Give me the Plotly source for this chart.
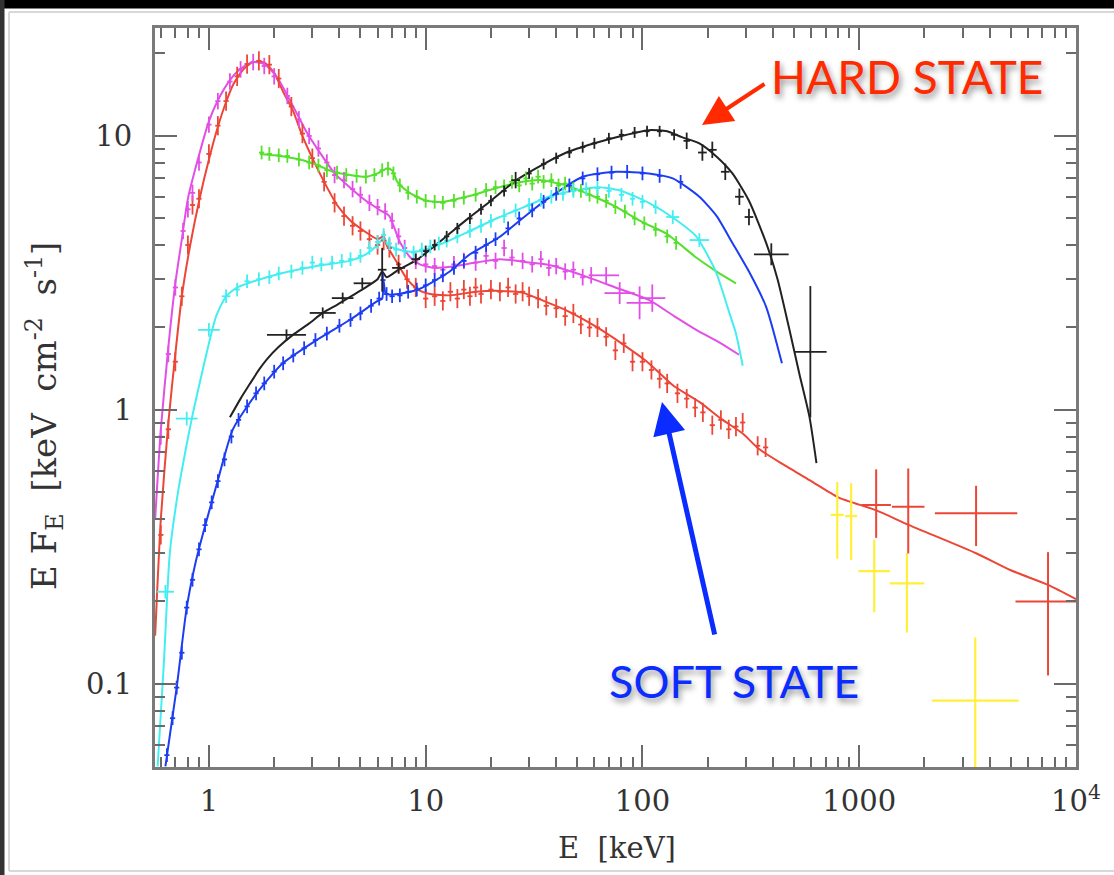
import plotly.graph_objects as go

# ---------------- data ----------------
# model curves
RED_MODEL_E = [0.565, 0.6, 0.65, 0.7, 0.75, 0.82, 0.91, 1.0, 1.1, 1.2, 1.3, 1.45, 1.6, 1.8, 2.0, 2.2, 2.45, 2.7, 3.0, 3.4, 3.9, 4.5, 5.2, 6.0, 6.4, 6.6, 7.3, 8.2, 9.2, 10.5, 13, 17, 22, 28, 35, 45, 60, 80, 105, 140, 183, 230, 290, 345, 450, 600, 800, 1200, 1700, 3460, 5000, 7430, 10000]
RED_MODEL_F = [0.15, 0.4, 0.9, 1.6, 2.6, 4.0, 6.0, 8.2, 10.8, 13.3, 15.5, 17.6, 18.6, 18.5, 17.0, 14.5, 12.3, 10.0, 8.3, 6.8, 5.6, 4.9, 4.5, 4.2, 4.3, 4.0, 3.5, 3.0, 2.75, 2.65, 2.62, 2.7, 2.72, 2.68, 2.5, 2.3, 2.03, 1.75, 1.5, 1.22, 1.07, 0.93, 0.82, 0.72, 0.63, 0.55, 0.48, 0.43, 0.38, 0.30, 0.26, 0.23, 0.204]

MAG_MODEL_E = [0.565, 0.6, 0.65, 0.7, 0.75, 0.8, 0.9, 1.0, 1.1, 1.25, 1.4, 1.6, 1.8, 2.06, 2.4, 2.83, 3.25, 3.8, 4.46, 5.3, 6.3, 6.8, 7.6, 8.5, 9.4, 11, 13, 17, 22, 30, 37, 53, 75, 107, 140, 177, 230, 279]
MAG_MODEL_F = [0.4, 0.85, 1.7, 2.9, 4.2, 5.9, 8.5, 11.3, 13.5, 16.0, 17.6, 18.6, 18.3, 16.4, 13.2, 10.3, 8.7, 7.3, 6.5, 5.8, 5.3, 5.1, 4.1, 3.6, 3.4, 3.3, 3.33, 3.45, 3.55, 3.45, 3.38, 3.1, 2.8, 2.52, 2.2, 1.96, 1.75, 1.59]

GRN_MODEL_E = [1.72, 2.0, 2.62, 3.2, 3.73, 4.5, 5.3, 6.0, 6.6, 7.0, 7.4, 8.2, 9.1, 10.1, 12, 15.4, 21.9, 28, 33.5, 44.6, 60, 75.8, 100, 129, 177, 220, 270]
GRN_MODEL_F = [8.6, 8.5, 8.2, 7.8, 7.4, 7.2, 7.1, 7.3, 7.6, 7.5, 6.8, 6.3, 6.0, 5.8, 5.75, 6.0, 6.5, 6.8, 6.9, 6.6, 6.0, 5.5, 4.85, 4.4, 3.6, 3.2, 2.9]

CYN_MODEL_E = [0.58, 0.62, 0.66, 0.72, 0.79, 0.85, 0.91, 1.0, 1.08, 1.2, 1.35, 1.55, 2.19, 3.14, 4.46, 5.3, 6.0, 6.4, 6.7, 7.5, 8.5, 9.5, 11, 13, 16, 22, 30, 37, 50, 63, 80, 107, 140, 177, 218, 250, 270, 290]
CYN_MODEL_F = [0.05, 0.12, 0.3, 0.5, 0.75, 1.0, 1.27, 1.75, 2.2, 2.6, 2.8, 2.92, 3.16, 3.35, 3.5, 3.7, 4.0, 4.25, 4.0, 3.85, 3.78, 3.8, 3.95, 4.17, 4.5, 5.06, 5.6, 6.0, 6.35, 6.5, 6.3, 5.7, 5.0, 4.3, 3.2, 2.3, 1.9, 1.45]

BLK_MODEL_E = [1.25, 1.4, 1.55, 1.7, 1.85, 2.1, 2.44, 2.9, 3.35, 3.9, 4.46, 5.2, 6.0, 6.3, 6.6, 7.5, 9.1, 12, 15.4, 20, 26.2, 35, 44.6, 60, 75.8, 107, 130, 152, 183, 220, 260, 310, 372, 420, 474, 530, 590, 635]
BLK_MODEL_F = [0.94, 1.1, 1.25, 1.4, 1.53, 1.7, 1.88, 2.07, 2.26, 2.42, 2.58, 2.78, 3.0, 3.2, 3.05, 3.25, 3.53, 4.2, 4.94, 5.8, 6.9, 7.9, 8.7, 9.4, 9.9, 10.5, 10.4, 9.9, 9.4, 8.4, 7.3, 5.8, 4.07, 3.0, 2.0, 1.35, 0.94, 0.64]

BLU_MODEL_E = [0.63, 0.71, 0.79, 0.87, 0.94, 1.09, 1.29, 1.66, 2.19, 3.14, 4.46, 6.0, 6.3, 6.4, 6.55, 7.5, 9.1, 10.5, 12.9, 16, 21.9, 31.2, 40, 53, 76, 107, 138, 183, 220, 260, 310, 372, 440]
BLU_MODEL_F = [0.05, 0.097, 0.19, 0.28, 0.355, 0.54, 0.85, 1.15, 1.48, 1.8, 2.13, 2.5, 2.55, 2.95, 2.65, 2.65, 2.74, 2.9, 3.2, 3.7, 4.28, 5.37, 6.2, 7.1, 7.4, 7.3, 7.0, 6.0, 5.1, 4.07, 3.2, 2.38, 1.48]

# data points (E [keV], E F_E) with half-widths of the error crosses in dex
RED_E = [0.6, 0.65, 0.7, 0.75, 0.8, 0.84, 0.9, 1.0, 1.1, 1.2, 1.35, 1.5, 1.7, 1.9, 2.1, 2.4, 2.7, 3.0, 3.4, 3.8, 4.2, 4.6, 5.0, 5.5, 6.0, 6.4, 6.8, 7.5, 8.2, 9, 10, 11, 12, 13, 14, 15, 16, 17, 18, 20, 22, 24, 26, 28, 30, 33, 36, 40, 44, 48, 52, 57, 62, 68, 75, 82, 90, 100, 110, 120, 130, 145, 160, 175, 190, 210, 230, 250, 270, 290, 340, 370]
RED_F = [0.35, 0.85, 1.5, 2.6, 4.0, 5.6, 5.9, 8.6, 10.9, 13.4, 16.5, 18.3, 18.8, 18.2, 16.2, 12.8, 10.2, 8.3, 6.8, 5.7, 5.1, 4.7, 4.5, 4.2, 4.0, 4.15, 3.9, 3.4, 3.0, 2.8, 2.55, 2.6, 2.5, 2.7, 2.55, 2.75, 2.6, 2.8, 2.65, 2.75, 2.7, 2.8, 2.65, 2.7, 2.6, 2.55, 2.4, 2.35, 2.2, 2.25, 2.05, 2.0, 2.0, 1.85, 1.65, 1.75, 1.5, 1.5, 1.4, 1.3, 1.25, 1.15, 1.1, 1.02, 0.98, 0.88, 0.92, 0.85, 0.87, 0.9, 0.74, 0.73]
RED_EX = 0.012
RED_EY = 0.035

RED_HI_E = [1197, 1683, 3460, 7430]
RED_HI_F = [0.45, 0.443, 0.42, 0.20]
RED_HI_EX = [0.068, 0.075, 0.19, 0.15]
RED_HI_EY_UP = [0.13, 0.14, 0.10, 0.18]
RED_HI_EY_DN = [0.12, 0.17, 0.12, 0.27]

MAG_E = [0.6, 0.65, 0.7, 0.76, 0.8, 0.84, 0.9, 1.0, 1.1, 1.25, 1.4, 1.6, 1.8, 2.0, 2.3, 2.6, 2.9, 3.2, 3.5, 3.8, 4.2, 4.6, 5.0, 5.5, 6.0, 6.5, 7.0, 7.5, 8.0, 9, 10, 11, 12, 13.5, 15, 17, 19, 21, 23, 25, 28, 31, 34, 37, 40, 44, 48, 53, 58]
MAG_F = [0.8, 1.6, 2.8, 4.5, 5.4, 6.2, 8.0, 11.0, 13.4, 15.8, 17.5, 18.6, 18.0, 16.5, 14.0, 11.5, 10.0, 9.0, 8.0, 7.2, 6.9, 6.4, 6.1, 5.7, 5.5, 5.3, 4.9, 4.3, 3.9, 3.5, 3.4, 3.35, 3.25, 3.4, 3.5, 3.45, 3.65, 3.5, 3.9, 3.6, 3.5, 3.4, 3.55, 3.3, 3.35, 3.2, 3.25, 3.05, 3.1]
MAG_EX = 0.012
MAG_EY = 0.03

MAG_HI_E = [68, 78.5, 97, 111]
MAG_HI_F = [3.1, 2.67, 2.46, 2.56]
MAG_HI_EX = [0.06, 0.07, 0.06, 0.06]
MAG_HI_EY = [0.03, 0.04, 0.06, 0.05]

GRN_E = [1.75, 1.9, 2.1, 2.3, 2.6, 2.9, 3.2, 3.5, 3.9, 4.3, 4.8, 5.3, 5.8, 6.3, 6.7, 7.1, 7.6, 8.3, 9.1, 10, 11, 12, 13.5, 15, 17, 19, 21, 23, 25, 27, 29, 31, 33, 35, 38, 41, 44, 48, 52, 57, 62, 68, 75, 83, 92, 102, 115, 130, 143]
GRN_F = [8.7, 8.6, 8.5, 8.45, 8.2, 8.0, 7.8, 7.5, 7.35, 7.2, 7.15, 7.1, 7.2, 7.5, 7.6, 7.3, 6.6, 6.2, 6.0, 5.8, 5.75, 5.7, 5.8, 5.95, 6.1, 6.35, 6.5, 6.55, 6.8, 6.6, 7.0, 6.7, 7.1, 6.8, 6.9, 6.6, 6.7, 6.4, 6.3, 6.1, 6.0, 5.8, 5.5, 5.3, 5.0, 4.8, 4.55, 4.3, 4.07]
GRN_EX = 0.012
GRN_EY = 0.025

CYN_E = [0.63, 0.79, 1.0, 1.2, 1.35, 1.5, 1.7, 1.9, 2.1, 2.4, 2.7, 3.0, 3.3, 3.7, 4.1, 4.5, 5.0, 5.5, 6.0, 6.4, 6.8, 7.3, 8.0, 8.8, 9.6, 10.5, 11.5, 12.5, 14, 16, 18, 20, 23, 26, 30, 34, 38, 43, 48, 55, 62, 70, 80, 90, 100, 115, 138, 183]
CYN_F = [0.217, 0.93, 1.96, 2.6, 2.75, 2.95, 3.0, 3.05, 3.15, 3.2, 3.3, 3.45, 3.4, 3.45, 3.5, 3.55, 3.65, 3.9, 4.1, 4.35, 4.05, 3.85, 3.8, 3.75, 3.85, 3.95, 4.05, 4.15, 4.3, 4.5, 4.7, 4.9, 5.1, 5.35, 5.6, 5.85, 6.0, 6.15, 6.3, 6.4, 6.45, 6.3, 6.1, 5.9, 5.75, 5.5, 5.06, 4.17]
CYN_EX = [0.04, 0.05, 0.05, 0.02, 0.012, 0.012, 0.012, 0.012, 0.012, 0.012, 0.012, 0.012, 0.012, 0.012, 0.012, 0.012, 0.012, 0.012, 0.012, 0.012, 0.012, 0.012, 0.012, 0.012, 0.012, 0.012, 0.012, 0.012, 0.012, 0.012, 0.012, 0.012, 0.012, 0.012, 0.012, 0.012, 0.012, 0.012, 0.012, 0.012, 0.012, 0.012, 0.012, 0.012, 0.012, 0.012, 0.03, 0.045]
CYN_EY = 0.025

BLK_E = [2.28, 3.35, 4.14, 5.1, 6.3, 7.5, 9, 10, 11, 12.5, 14, 16, 18, 20, 23, 26, 30, 35, 40, 46, 53, 60, 70, 80, 92, 105, 120, 140, 160, 189, 210, 241, 280, 310, 393, 595]
BLK_F = [1.88, 2.26, 2.56, 2.9, 3.25, 3.3, 3.55, 3.8, 4.0, 4.3, 4.6, 5.0, 5.4, 5.8, 6.3, 6.9, 7.3, 7.9, 8.3, 8.7, 9.1, 9.4, 9.8, 10.1, 10.3, 10.4, 10.4, 10.1, 9.6, 8.7, 8.9, 7.4, 6.0, 5.06, 3.7, 1.63]
BLK_EX = [0.09, 0.06, 0.05, 0.04, 0.02, 0.03, 0.02, 0.012, 0.012, 0.012, 0.012, 0.012, 0.012, 0.012, 0.012, 0.02, 0.012, 0.012, 0.012, 0.012, 0.012, 0.012, 0.012, 0.012, 0.012, 0.012, 0.012, 0.015, 0.015, 0.02, 0.02, 0.02, 0.02, 0.02, 0.08, 0.075]
BLK_EY = [0.02, 0.02, 0.02, 0.02, 0.08, 0.02, 0.02, 0.02, 0.02, 0.02, 0.02, 0.02, 0.02, 0.02, 0.02, 0.03, 0.02, 0.02, 0.02, 0.02, 0.02, 0.02, 0.02, 0.02, 0.02, 0.02, 0.02, 0.02, 0.03, 0.03, 0.03, 0.03, 0.03, 0.03, 0.04, 0.24]

BLU_E = [0.64, 0.68, 0.71, 0.75, 0.79, 0.84, 0.9, 0.96, 1.03, 1.1, 1.18, 1.27, 1.37, 1.5, 1.65, 1.8, 2.0, 2.2, 2.45, 2.75, 3.1, 3.5, 4.0, 4.5, 5.0, 5.6, 6.1, 6.35, 6.6, 7.0, 7.6, 8.3, 9.1, 10, 11, 12, 13.5, 15, 17, 19, 21, 24, 27, 31, 35, 40, 46, 53, 62, 72, 85, 100, 120, 150]
BLU_F = [0.055, 0.075, 0.097, 0.13, 0.19, 0.24, 0.31, 0.38, 0.46, 0.55, 0.66, 0.8, 0.92, 1.03, 1.15, 1.25, 1.38, 1.48, 1.58, 1.68, 1.8, 1.9, 2.03, 2.13, 2.25, 2.4, 2.55, 2.98, 2.65, 2.6, 2.62, 2.7, 2.75, 2.85, 2.98, 3.1, 3.3, 3.5, 3.75, 4.0, 4.2, 4.6, 5.0, 5.35, 5.75, 6.15, 6.6, 7.0, 7.25, 7.35, 7.4, 7.3, 7.15, 6.8]
BLU_EX = 0.012
BLU_EY = 0.025

YEL_E = [792, 918, 1173, 1660, 3430]
YEL_F = [0.414, 0.41, 0.258, 0.233, 0.087]
YEL_EX = [0.03, 0.028, 0.073, 0.08, 0.2]
YEL_EY_UP = [0.12, 0.12, 0.115, 0.11, 0.23]
YEL_EY_DN = [0.16, 0.16, 0.15, 0.18, 0.3]

X_TICKS = [1, 10, 100, 1000, 10000]
X_TICKTEXT = ["1", "10", "100", "1000", "10<sup>4</sup>"]
Y_TICKS = [0.1, 1, 10]
Y_TICKTEXT = ["0.1", "1", "10"]

RED = "#ec4637"
MAG = "#e34fe6"
GRN = "#55e02c"
CYN = "#44eef0"
BLU = "#1d3df2"
BLK = "#222222"
YEL = "#fff03a"

# ---------------- layout geometry ----------------
W, H = 1114, 875
PL, PR, PT, PB = 155, 1076, 28, 767  # plot-area pixel box


def px(x):
    return (x - PL) / (PR - PL)


def py(y):
    return (PB - y) / (PB - PT)


def as_list(v, n):
    return v if isinstance(v, list) else [v] * n


def err(vals, up, dn):
    n = len(vals)
    up = as_list(up, n)
    dn = as_list(dn, n)
    plus = [v * (10 ** u - 1) for v, u in zip(vals, up)]
    minus = [v * (1 - 10 ** (-d)) for v, d in zip(vals, dn)]
    return plus, minus


def data_trace(E, F, ex, ey_up, ey_dn, color, thick=1.8):
    xp, xm = err(E, ex, ex)
    yp, ym = err(F, ey_up, ey_dn)
    return go.Scatter(
        x=E, y=F, mode="markers",
        marker=dict(size=2, color=color),
        error_x=dict(type="data", symmetric=False, array=xp, arrayminus=xm,
                     width=0, thickness=thick, color=color),
        error_y=dict(type="data", symmetric=False, array=yp, arrayminus=ym,
                     width=0, thickness=thick, color=color),
        hoverinfo="skip", showlegend=False,
    )


def model_trace(E, F, color, width=2):
    return go.Scatter(x=E, y=F, mode="lines",
                      line=dict(color=color, width=width, shape="spline", smoothing=0.6),
                      hoverinfo="skip", showlegend=False)


fig = go.Figure()
fig.add_trace(model_trace(RED_MODEL_E, RED_MODEL_F, RED))
fig.add_trace(model_trace(MAG_MODEL_E, MAG_MODEL_F, MAG))
fig.add_trace(model_trace(GRN_MODEL_E, GRN_MODEL_F, GRN))
fig.add_trace(model_trace(CYN_MODEL_E, CYN_MODEL_F, CYN))
fig.add_trace(model_trace(BLU_MODEL_E, BLU_MODEL_F, BLU))
fig.add_trace(model_trace(BLK_MODEL_E, BLK_MODEL_F, BLK))

fig.add_trace(data_trace(YEL_E, YEL_F, YEL_EX, YEL_EY_UP, YEL_EY_DN, YEL, 2.2))
fig.add_trace(data_trace(RED_HI_E, RED_HI_F, RED_HI_EX, RED_HI_EY_UP, RED_HI_EY_DN, RED, 2.0))
fig.add_trace(data_trace(RED_E, RED_F, RED_EX, RED_EY, RED_EY, RED))
fig.add_trace(data_trace(MAG_E, MAG_F, MAG_EX, MAG_EY, MAG_EY, MAG))
fig.add_trace(data_trace(MAG_HI_E, MAG_HI_F, MAG_HI_EX, MAG_HI_EY, MAG_HI_EY, MAG))
fig.add_trace(data_trace(GRN_E, GRN_F, GRN_EX, GRN_EY, GRN_EY, GRN))
fig.add_trace(data_trace(CYN_E, CYN_F, CYN_EX, CYN_EY, CYN_EY, CYN))
fig.add_trace(data_trace(BLU_E, BLU_F, BLU_EX, BLU_EY, BLU_EY, BLU))
fig.add_trace(data_trace(BLK_E, BLK_F, BLK_EX, BLK_EY, BLK_EY, BLK))

minor_x = [m * 10 ** d for d in range(-1, 4) for m in range(2, 10)]
minor_y = [m * 10 ** d for d in range(-2, 2) for m in range(2, 10)]

TICK_FONT = dict(family="DejaVu Serif", size=29, color="#333333")
axis_common = dict(
    type="log", showgrid=False, zeroline=False,
    showline=True, linecolor="#7a7a7a", linewidth=3, mirror="allticks",
    ticks="inside", ticklen=22, tickwidth=2, tickcolor="#6a6a6a",
    tickfont=TICK_FONT,
)
minor_style = dict(ticks="inside", ticklen=10, tickwidth=2, tickcolor="#6a6a6a")

fig.update_layout(
    width=W, height=H,
    margin=dict(l=PL, r=W - PR, t=PT, b=H - PB),
    paper_bgcolor="white", plot_bgcolor="white",
    xaxis=dict(axis_common, range=[-0.2487, 4.0], tickvals=X_TICKS, ticktext=X_TICKTEXT,
               ticklabelstandoff=6, minor=dict(minor_style, tickvals=minor_x)),
    yaxis=dict(axis_common, range=[-1.303, 1.394], tickvals=Y_TICKS, ticktext=Y_TICKTEXT,
               ticklabelstandoff=14, minor=dict(minor_style, tickvals=minor_y)),
    showlegend=False,
)

# outer frame decorations
fig.add_shape(type="rect", xref="paper", yref="paper", x0=px(0), x1=px(W), y0=py(0), y1=py(8),
              fillcolor="black", line=dict(color="black", width=1), layer="above")
fig.add_shape(type="rect", xref="paper", yref="paper", x0=px(0), x1=px(4), y0=py(0), y1=py(H),
              fillcolor="#333333", line=dict(color="#333333", width=1), layer="above")
fig.add_shape(type="line", xref="paper", yref="paper", x0=px(9), x1=px(W), y0=py(12), y1=py(12),
              line=dict(color="#d8d8d8", width=2))
fig.add_shape(type="line", xref="paper", yref="paper", x0=px(9), x1=px(9), y0=py(12), y1=py(871),
              line=dict(color="#d8d8d8", width=2))
fig.add_shape(type="line", xref="paper", yref="paper", x0=px(9), x1=px(W), y0=py(871), y1=py(871),
              line=dict(color="#d8d8d8", width=2))

# axis titles
fig.add_annotation(xref="paper", yref="paper", x=px(617), y=py(848), showarrow=False,
                   xanchor="center", yanchor="middle",
                   text="E  [keV]", font=dict(family="DejaVu Serif", size=29, color="#333333"))
fig.add_annotation(xref="paper", yref="paper", x=px(44), y=py(416), showarrow=False,
                   xanchor="center", yanchor="middle", textangle=-90,
                   text="E F<sub>E</sub>  [keV  cm<sup>-2</sup>  s<sup>-1</sup>]",
                   font=dict(family="DejaVu Serif", size=34, color="#333333"))

# state labels and arrows
shadow = "2px 4px 6px rgba(0,0,0,0.45)"
fig.add_annotation(xref="paper", yref="paper", x=px(907), y=py(76), showarrow=False,
                   xanchor="center", yanchor="middle",
                   text="HARD STATE", font=dict(family="Lato", size=46, color="#ff2a00", shadow=shadow))
fig.add_annotation(xref="paper", yref="paper", x=px(734), y=py(681), showarrow=False,
                   xanchor="center", yanchor="middle",
                   text="SOFT STATE", font=dict(family="Lato", size=45, color="#0a2cff", shadow=shadow))
fig.add_annotation(xref="paper", yref="paper", x=px(702), y=py(125), ax=64, ay=-42, text="",
                   showarrow=True, arrowhead=2, arrowsize=1.5, arrowwidth=4, arrowcolor="#ff2a00")
fig.add_annotation(xref="paper", yref="paper", x=px(662), y=py(402), ax=53, ay=234, text="",
                   showarrow=True, arrowhead=2, arrowsize=1.3, arrowwidth=5, arrowcolor="#0a2cff")

fig.write_html("out.html", config={"displayModeBar": False},
               post_script="document.body.style.margin='0';document.body.style.overflow='hidden';")
